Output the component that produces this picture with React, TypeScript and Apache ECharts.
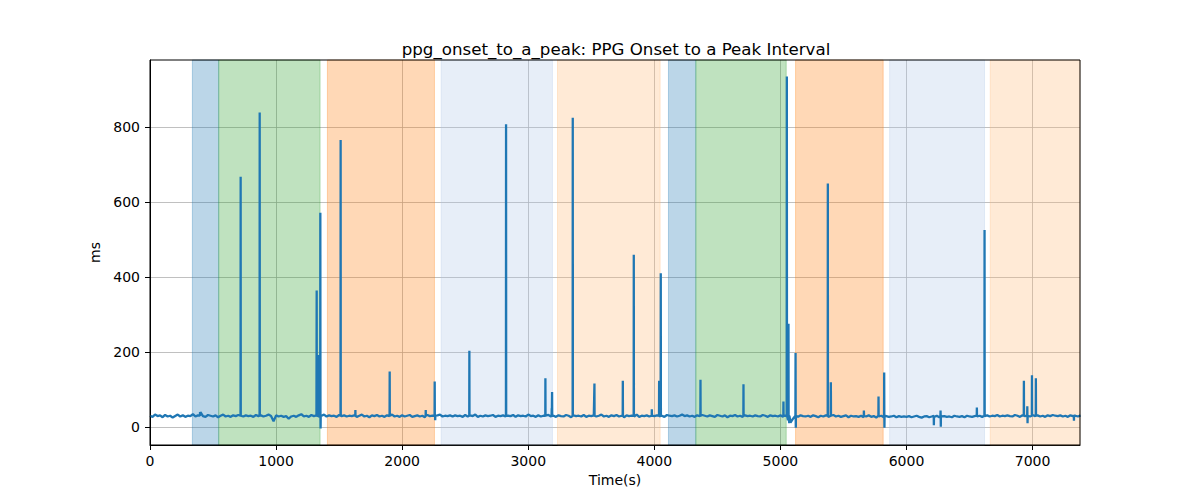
import React, { useEffect, useRef } from "react";
import * as echarts from "echarts";

const TITLE = "ppg_onset_to_a_peak: PPG Onset to a Peak Interval";
const X_LABEL = "Time(s)";
const Y_LABEL = "ms";
const X_TICKS = [0, 1000, 2000, 3000, 4000, 5000, 6000, 7000];
const Y_TICKS = [0, 200, 400, 600, 800];
const X_MIN = 0;
const X_MAX = 7376;
const Y_MIN = -48;
const Y_MAX = 978;

// baseline samples every 20 s starting at t = 0
const BASE_STEP = 20;
const baselineValues = [
  30, 27, 33, 29, 31, 26, 32, 28, 30, 25, 29, 33, 28, 31, 27, 30, 29, 34, 28, 31,
  40, 29, 27, 32, 30, 28, 31, 26, 30, 33, 28, 30, 27, 31, 29, 32, 30, 28, 31, 29,
  30, 27, 32, 29, 31, 28, 30, 33, 29, 15, 31, 28, 30, 27, 29, 22, 28, 30, 27, 31,
  34, 28, 30, 27, 32, 29, 31, 26, 30, 33, 28, 31, 29, 30, 27, 32, 29, 31, 28, 30,
  29, 31, 27, 30, 33, 28, 30, 26, 31, 29, 32, 28, 30, 27, 31, 29, 33, 28, 30, 27,
  31, 28, 30, 32, 27, 29, 31, 28, 30, 26, 32, 29, 30, 27, 31, 33, 28, 30, 29, 31,
  28, 31, 29, 30, 27, 32, 28, 31, 29, 33, 27, 30, 28, 31, 29, 30, 32, 27, 30, 29,
  31, 28, 30, 29, 32, 27, 31, 29, 30, 28, 33, 29, 30, 27, 31, 28, 30, 29, 32, 28,
  30, 27, 31, 29, 28, 32, 30, 26, 31, 29, 30, 28, 32, 27, 30, 29, 31, 28, 30, 33,
  28, 30, 27, 31, 29, 32, 28, 30, 26, 31, 29, 30, 28, 33, 27, 30, 29, 31, 28, 30,
  29, 31, 28, 30, 27, 32, 30, 29, 31, 28, 30, 33, 29, 31, 28, 30, 27, 31, 29, 32,
  30, 28, 31, 29, 27, 32, 30, 28, 31, 26, 30, 29, 32, 28, 30, 27, 31, 29, 30, 28,
  31, 29, 28, 32, 30, 27, 31, 29, 30, 28, 31, 27, 30, 18, 12, 22, 30, 27, 31, 29,
  28, 30, 27, 31, 29, 26, 30, 28, 31, 27, 29, 32, 28, 30, 27, 29, 31, 26, 30, 28,
  29, 27, 30, 26, 28, 31, 27, 29, 25, 28, 30, 26, 29, 27, 28, 30, 26, 29, 27, 28,
  27, 29, 26, 28, 30, 27, 25, 28, 29, 26, 28, 27, 30, 26, 28, 29, 27, 28, 26, 30,
  28, 27, 29, 26, 30, 28, 27, 29, 28, 30, 27, 29, 31, 28, 30, 29, 32, 28, 30, 29,
  31, 29, 28, 32, 30, 27, 31, 29, 30, 28, 32, 29, 31, 28, 30, 27, 31, 29, 32, 30,
  29, 31, 28, 30, 27, 31, 29, 30, 28, 31,
];
const BASE_LEVEL = 30;

// single-sample excursions (time in s, value in ms)
const spikeTimes = [
  397, 719, 870, 1322, 1338, 1351, 1353, 1512, 1629, 1901, 2187, 2258, 2262, 2533,
  2824, 3136, 3186, 3189, 3353, 3525, 3750, 3837, 3980, 4038, 4051, 4366, 4707,
  5024, 5051, 5064, 5070, 5120, 5122, 5376, 5400, 5662, 5778, 5823, 5825, 6217,
  6270, 6272, 6558, 6619, 6931, 6958, 6960, 6995, 7026, 7328,
];
const spikeValues = [
  40, 667, 838, 364, 192, 571, -4, 765, 45, 148, 45, 121, 18, 203,
  807, 130, 50, 93, 824, 116, 123, 459, 47, 123, 410, 126, 114,
  68, 934, 275, 10, 197, -2, 649, 119, 44, 81, 145, -2, 5,
  44, 1, 52, 525, 123, 55, 10, 138, 130, 17,
];

// shaded periods
const bandStarts = [336, 545, 1407, 2309, 3232, 4112, 4329, 5120, 5866, 6664];
const bandEnds = [545, 1349, 2256, 3192, 4046, 4329, 5046, 5815, 6619, 7376];
const bandColors = [
  "rgba(31,119,180,0.3)",
  "rgba(44,160,44,0.3)",
  "rgba(255,127,14,0.3)",
  "rgba(174,199,232,0.3)",
  "rgba(255,187,120,0.3)",
  "rgba(31,119,180,0.3)",
  "rgba(44,160,44,0.3)",
  "rgba(255,127,14,0.3)",
  "rgba(174,199,232,0.3)",
  "rgba(255,187,120,0.3)",
];

function buildSeries(): [number, number][] {
  const pts: [number, number][] = baselineValues.map((v, i) => [i * BASE_STEP, v]);
  spikeTimes.forEach((t, i) => {
    pts.push([t - 1, BASE_LEVEL]);
    pts.push([t, spikeValues[i]]);
    pts.push([t + 1, BASE_LEVEL]);
  });
  pts.sort((a, b) => a[0] - b[0]);
  return pts;
}

const FONT = "DejaVu Sans";

export default function App() {
  const ref = useRef<HTMLDivElement>(null);
  useEffect(() => {
    if (!ref.current) return;
    const chart = echarts.init(ref.current, undefined, { renderer: "svg" });
    const gridLeft = 150;
    const gridRight = 120;
    const gridTop = 60;
    const gridBottom = 55;
    const axisCommon = {
      axisLine: { show: true, onZero: false, lineStyle: { color: "#000", width: 1 } },
      axisTick: { show: true, inside: false, length: 5, lineStyle: { color: "#000", width: 1 } },
      splitLine: { show: true, lineStyle: { color: "#b0b0b0", width: 0.8 } },
    };
    chart.setOption({
      animation: false,
      backgroundColor: "#fff",
      title: {
        text: TITLE,
        left: 611,
        top: 36,
        textAlign: "center",
        textStyle: { fontFamily: FONT, fontSize: 16.67, fontWeight: "normal", color: "#000" },
      },
      grid: { left: gridLeft, right: gridRight, top: gridTop, bottom: gridBottom, containLabel: false },
      xAxis: {
        type: "value",
        min: X_MIN,
        max: X_MAX,
        name: X_LABEL,
        nameLocation: "middle",
        nameGap: 28,
        nameTextStyle: { fontFamily: FONT, fontSize: 14, color: "#000" },
        ...axisCommon,
        axisTick: { ...axisCommon.axisTick, customValues: X_TICKS },
        axisLabel: {
          customValues: X_TICKS,
          formatter: (v: number) => String(v),
          fontFamily: FONT,
          fontSize: 14,
          color: "#000",
          margin: 9,
        },
      },
      yAxis: {
        type: "value",
        min: Y_MIN,
        max: Y_MAX,
        name: Y_LABEL,
        nameLocation: "middle",
        nameGap: 42,
        nameRotate: 90,
        nameTextStyle: { fontFamily: FONT, fontSize: 14, color: "#000" },
        ...axisCommon,
        axisTick: { ...axisCommon.axisTick, customValues: Y_TICKS },
        axisLabel: {
          customValues: Y_TICKS,
          formatter: (v: number) => String(v),
          fontFamily: FONT,
          fontSize: 14,
          color: "#000",
          margin: 10,
        },
      },
      graphic: [
        {
          type: "rect",
          z: 100,
          silent: true,
          shape: { x: gridLeft, y: gridTop, width: 1200 - gridLeft - gridRight, height: 500 - gridTop - gridBottom },
          style: { fill: "none", stroke: "#000", lineWidth: 1 },
        },
      ],
      series: [
        {
          type: "line",
          name: "bands",
          data: [],
          silent: true,
          markArea: {
            silent: true,
            data: bandStarts.map((s, i) => [
              {
                xAxis: s,
                itemStyle: { color: bandColors[i], borderColor: bandColors[i], borderWidth: 1 },
              },
              { xAxis: bandEnds[i] },
            ]),
          },
        },
        {
          type: "line",
          name: "ppg_onset_to_a_peak",
          data: buildSeries(),
          showSymbol: false,
          symbol: "none",
          lineStyle: { color: "#1f77b4", width: 2.3 },
          itemStyle: { color: "#1f77b4" },
          clip: true,
        },
      ],
    });
    return () => chart.dispose();
  }, []);
  return (
    <div
      ref={ref}
      style={{ position: "absolute", left: 0, top: 0, width: 1200, height: 500 }}
    />
  );
}
